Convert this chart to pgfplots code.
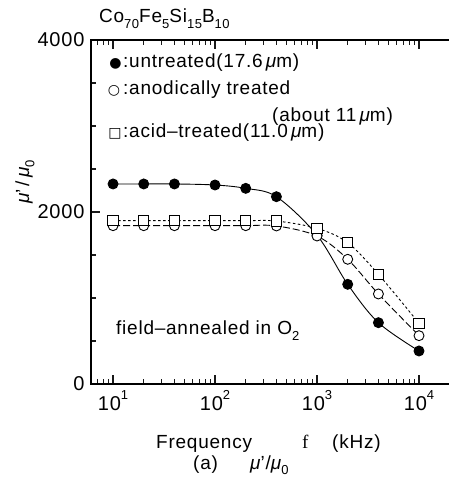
\documentclass[border=0pt]{standalone}
\usepackage{fontspec}
\setmainfont{Liberation Sans}[LetterSpace=4]
\newfontfamily\symfont{DejaVu Sans}
\newfontfamily\seriffont{Liberation Serif}
\usepackage{pgfplots}
\pgfplotsset{compat=1.18}

% scripts sized relative to the large body text
\newcommand\sub[1]{\raisebox{-0.28em}{\fontsize{13}{15}\selectfont #1}}
\newcommand\sups[1]{\raisebox{0.55em}{\fontsize{13}{15}\selectfont #1}}
\newcommand\umu{{\itshape μ}}
\definecolor{tickink}{RGB}{25,25,25}

\begin{document}
\begin{tikzpicture}
% the frame runs on past the right edge of the page, so only its
% left, top and bottom sides show
\useasboundingbox (-91pt,-93pt) rectangle (358pt,384pt);
\fontsize{19}{23}\selectfont
\begin{axis}[
  at={(0pt,0pt)}, anchor=south west, scale only axis,
  width=371pt, height=344pt,
  xmode=log, xmin=6.08, xmax=26400,
  ymin=0, ymax=4000,
  axis line style={line width=1.4pt},
  every tick/.style={tickink, line width=1.1pt},
  tick align=inside,
  major tick length=9pt, minor tick length=5pt,
  xtick pos=both, ytick pos=left,
  xticklabel pos=bottom,
  xtick={10,100,1000,10000},
  minor xtick={7,8,9,20,30,40,50,60,70,80,90,200,300,400,500,600,700,800,900,2000,3000,4000,5000,6000,7000,8000,9000,20000},
  xticklabels={10\sups{1},10\sups{2},10\sups{3},10\sups{4}},
  ytick={0,2000,4000}, yticklabels={0,2000,4000},
  minor ytick={500,1000,1500,2500,3000,3500},
  tick label style={font=\fontsize{20}{24}\selectfont},
  clip=false,
]
% untreated (17.6 um)
\addplot[black, line width=0.9pt, smooth, tension=0.55,
  mark=*, mark size=5pt, mark options={solid, fill=black}]
  coordinates {(10,2326)(20,2326)(40,2326)(100,2314)(200,2275)(400,2178)
               (1000,1730)(2000,1159)(4000,713)(10000,384)};
% anodically treated (about 11 um)
\addplot[black, line width=0.9pt, dash pattern=on 7pt off 3pt, smooth, tension=0.55,
  mark=*, mark size=5pt, mark options={solid, fill=white}]
  coordinates {(10,1841)(20,1841)(40,1841)(100,1841)(200,1841)(400,1838)
               (1000,1721)(2000,1450)(4000,1047)(10000,562)};
% acid-treated (11.0 um)
\addplot[black, line width=0.9pt, dash pattern=on 2.5pt off 2.5pt, smooth, tension=0.55,
  mark=square*, mark size=5.2pt, mark options={solid, fill=white}]
  coordinates {(10,1899)(20,1899)(40,1899)(100,1899)(200,1899)(400,1895)
               (1000,1810)(2000,1643)(4000,1275)(10000,706)};
\end{axis}

% title
\node[anchor=base west, inner sep=0] at (8pt,361pt) {Co\sub{70}Fe\sub{5}Si\sub{15}B\sub{10}};

% key
\node[inner sep=0] at (24.5pt,320pt) {\symfont\fontsize{14}{14}\selectfont ●};
\node[anchor=base west, inner sep=0] at (32pt,316pt) {:untreated(17.6\,\umu m)};
\node[inner sep=0] at (23pt,293pt) {\symfont\fontsize{14}{14}\selectfont ○};
\node[anchor=base west, inner sep=0] at (32pt,289pt) {:anodically treated};
\node[anchor=base west, inner sep=0] at (181pt,262pt) {(about 11\,\umu m)};
\node[inner sep=0] at (24pt,250pt) {\symfont\fontsize{14}{14}\selectfont □};
\node[anchor=base west, inner sep=0] at (32pt,246pt) {:acid–treated(11.0\,\umu m)};

\node[anchor=base west, inner sep=0] at (25pt,49pt) {field–annealed in O\sub{2}};

% axis titles
\node[anchor=base west, inner sep=0] at (65pt,-64pt) {Frequency};
\node[anchor=base west, inner sep=0] at (211pt,-64pt) {\seriffont f};
\node[anchor=base west, inner sep=0] at (241pt,-64pt) {(kHz)};
\node[anchor=base west, inner sep=0] at (102pt,-85pt) {(a)};
\node[anchor=base west, inner sep=0] at (159pt,-85pt) {\umu'/\umu\sub{0}};
\node[rotate=90, inner sep=0] at (-66pt,202pt) {\umu'\,/\,\umu\sub{0}};
\end{tikzpicture}
\end{document}
